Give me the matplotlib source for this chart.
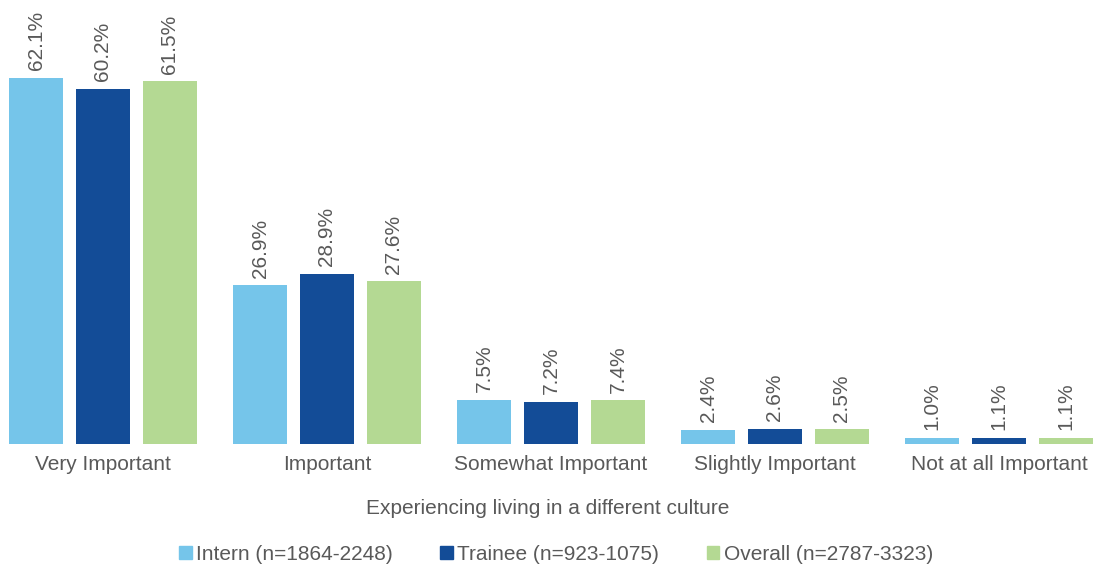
import numpy as np
import matplotlib.pyplot as plt
from matplotlib.patches import Patch

plt.rcParams['font.family'] = ['Liberation Sans', 'DejaVu Sans']

categories = ["Very Important", "Important", "Somewhat Important",
              "Slightly Important", "Not at all Important"]
intern = [62.1, 26.9, 7.5, 2.4, 1.0]
trainee = [60.2, 28.9, 7.2, 2.6, 1.1]
overall = [61.5, 27.6, 7.4, 2.5, 1.1]
series_names = ["Intern (n=1864-2248)", "Trainee (n=923-1075)", "Overall (n=2787-3323)"]
colors = ["#75C5EA", "#134C97", "#B4D993"]
txt = "#595959"
fs = 15

fig = plt.figure(figsize=(10.95, 5.7), dpi=100)
# axes spans slightly past the left/right edges (chart is cropped)
ax = fig.add_axes([-9 / 1095, 126 / 570, 1120 / 1095, 444 / 570])

x = np.arange(len(categories))
w = 0.237
step = 0.299
for i, (vals, c) in enumerate(zip([intern, trainee, overall], colors)):
    pos = x + (i - 1) * step
    ax.bar(pos, vals, width=w, color=c)
    for p, v in zip(pos, vals):
        ax.text(p, v + 1.3, f"{v:.1f}%", rotation=90, ha='center', va='bottom',
                fontsize=fs, color=txt)

ax.set_xlim(-0.5, len(categories) - 0.5)
ax.set_ylim(0, 75.3)
ax.set_yticks([])
ax.set_xticks(x)
ax.set_xticklabels(categories, fontsize=fs, color=txt)
ax.tick_params(axis='x', length=0, pad=8)
for s in ax.spines.values():
    s.set_visible(False)

fig.text(548 / 1095, 1 - 508 / 570, "Experiencing living in a different culture",
         ha='center', va='center', fontsize=fs, color=txt)

handles = [Patch(color=c, label=n) for c, n in zip(colors, series_names)]
fig.legend(handles=handles, loc='center', bbox_to_anchor=(556 / 1095, 1 - 554 / 570),
           ncol=3, frameon=False, fontsize=fs, labelcolor=txt,
           handlelength=0.6, handleheight=0.6, handletextpad=0.2, columnspacing=2.3)

fig.savefig("out.png", dpi=100)
